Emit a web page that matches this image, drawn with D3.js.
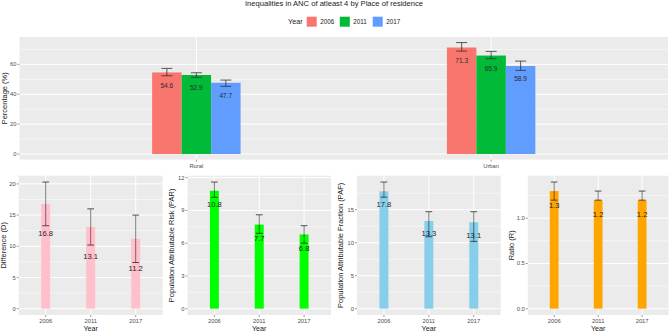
<!DOCTYPE html>
<html>
<head>
<meta charset="utf-8">
<script src="https://cdn.jsdelivr.net/npm/d3@7"></script>
<style>
html,body{margin:0;padding:0;background:#fff;}
svg{display:block;font-family:"Liberation Sans",Arial,sans-serif;}
</style>
</head>
<body>
<svg id="chart" width="669" height="332"></svg>
<script>
// ---------------- DATA ----------------
const titleText = "Inequalities in ANC of atleast 4 by Place of residence";
const places = ["Rural", "Urban"];
const years = ["2006", "2011", "2017"];
const yearColors = ["#F8766D", "#00BA38", "#619CFF"];
const pct2006 = [54.6, 71.3];
const pct2011 = [52.9, 65.9];
const pct2017 = [47.7, 58.9];
const low2006 = [52.4, 68.9];
const low2011 = [51.3, 63.8];
const low2017 = [45.3, 56.0];
const up2006 = [57.3, 74.6];
const up2011 = [54.4, 68.7];
const up2017 = [49.5, 62.2];
const pctTicks = [0, 20, 40, 60];

const diffVals = [16.8, 13.1, 11.2];
const diffLow = [13.3, 10.2, 7.4];
const diffHigh = [20.3, 16.0, 15.0];
const diffTicks = [0, 5, 10, 15, 20];

const parVals = [10.8, 7.7, 6.8];
const parLow = [10.2, 6.9, 6.0];
const parHigh = [11.6, 8.6, 7.6];
const parTicks = [0, 3, 6, 9, 12];

const pafVals = [17.8, 13.3, 13.1];
const pafLow = [16.9, 10.9, 10.2];
const pafHigh = [19.2, 14.7, 14.7];
const pafTicks = [0, 5, 10, 15];

const ratioVals = [1.3, 1.2, 1.2];
const ratioLow = [1.2, 1.2, 1.2];
const ratioHigh = [1.4, 1.3, 1.3];
const ratioTicks = [0, 0.5, 1.0];

// ---------------- DRAW ----------------
const svg = d3.select("#chart");
const BG = "#EBEBEB";
const TICKTXT = "#4D4D4D";
const TICKCOL = "#333333";

// title
svg.append("text").attr("x", 334).attr("y", 6.3).attr("text-anchor", "middle")
  .attr("font-size", 7.6).attr("fill", "#1a1a1a").text(titleText);

// legend
const leg = svg.append("g");
leg.append("text").attr("x", 288).attr("y", 24.4).attr("font-size", 7.2).attr("fill", "#1a1a1a").text("Year");
const legX = [306.7, 339.8, 372.7];
years.forEach((y, i) => {
  leg.append("rect").attr("x", legX[i]).attr("y", 16.7).attr("width", 10).attr("height", 10)
    .attr("fill", yearColors[i]);
  leg.append("text").attr("x", legX[i] + 13.5).attr("y", 24).attr("font-size", 6.3)
    .attr("fill", "#1a1a1a").text(y);
});

// ---------- top panel ----------
(function () {
  const L = 19.5, R = 668, T = 37, B = 159.6;
  const vals = [pct2006, pct2011, pct2017];
  const lows = [low2006, low2011, low2017];
  const ups = [up2006, up2011, up2017];
  const maxUp = d3.max(ups.flat());
  const ext = maxUp * 0.05;
  const y = d3.scaleLinear().domain([-ext, maxUp + ext]).range([B, T]);
  const x = d3.scaleLinear().domain([0.4, places.length + 0.6]).range([L, R]);
  const g = svg.append("g");
  g.append("rect").attr("x", L).attr("y", T).attr("width", R - L).attr("height", B - T).attr("fill", BG);
  const minor = pctTicks.map(t => t + 10);
  g.selectAll(".mn").data(minor).enter().append("line")
    .attr("x1", L).attr("x2", R).attr("y1", d => y(d)).attr("y2", d => y(d))
    .attr("stroke", "#fff").attr("stroke-width", 0.5);
  g.selectAll(".mj").data(pctTicks).enter().append("line")
    .attr("x1", L).attr("x2", R).attr("y1", d => y(d)).attr("y2", d => y(d))
    .attr("stroke", "#fff").attr("stroke-width", 1);
  g.selectAll(".vg").data(places).enter().append("line")
    .attr("x1", (d, i) => x(i + 1)).attr("x2", (d, i) => x(i + 1)).attr("y1", T).attr("y2", B)
    .attr("stroke", "#fff").attr("stroke-width", 1);
  const bw = 0.1;
  const capW = 0.0375;
  years.forEach((yr, k) => {
    places.forEach((p, i) => {
      const cx = i + 1 + (k - 1) * bw;
      g.append("rect").attr("x", x(cx - bw / 2)).attr("width", x(cx + bw / 2) - x(cx - bw / 2))
        .attr("y", y(vals[k][i])).attr("height", y(0) - y(vals[k][i])).attr("fill", yearColors[k]);
    });
  });
  years.forEach((yr, k) => {
    places.forEach((p, i) => {
      const cx = i + 1 + (k - 1) * bw;
      const ec = "#333";
      g.append("line").attr("x1", x(cx)).attr("x2", x(cx)).attr("y1", y(lows[k][i])).attr("y2", y(ups[k][i]))
        .attr("stroke", ec).attr("stroke-width", 0.8);
      [lows[k][i], ups[k][i]].forEach(v => {
        g.append("line").attr("x1", x(cx - capW / 2)).attr("x2", x(cx + capW / 2))
          .attr("y1", y(v)).attr("y2", y(v)).attr("stroke", ec).attr("stroke-width", 0.8);
      });
      g.append("text").attr("x", x(cx)).attr("y", y(vals[k][i]) + 13).attr("dy", "0.35em")
        .attr("text-anchor", "middle").attr("font-size", 6.6).attr("fill", "#2b2b2b")
        .text(vals[k][i].toFixed(1));
    });
  });
  // axes
  g.selectAll(".yt").data(pctTicks).enter().append("line")
    .attr("x1", L - 2).attr("x2", L).attr("y1", d => y(d)).attr("y2", d => y(d)).attr("stroke", TICKCOL).attr("stroke-width", 0.5);
  g.selectAll(".yl").data(pctTicks).enter().append("text")
    .attr("x", L - 3).attr("y", d => y(d)).attr("dy", "0.35em").attr("text-anchor", "end")
    .attr("font-size", 5.8).attr("fill", TICKTXT).text(d => d);
  g.selectAll(".xt").data(places).enter().append("line")
    .attr("x1", (d, i) => x(i + 1)).attr("x2", (d, i) => x(i + 1)).attr("y1", B).attr("y2", B + 2)
    .attr("stroke", TICKCOL).attr("stroke-width", 0.5);
  g.selectAll(".xl").data(places).enter().append("text")
    .attr("x", (d, i) => x(i + 1)).attr("y", B + 8.5).attr("text-anchor", "middle")
    .attr("font-size", 5.8).attr("fill", TICKTXT).text(d => d);
  g.append("text").attr("transform", `translate(6.5,${(T + B) / 2}) rotate(-90)`)
    .attr("text-anchor", "middle").attr("font-size", 7.5).attr("fill", "#1a1a1a").text("Percentage (%)");
})();

// ---------- bottom panels ----------
function smallPanel(opt) {
  const { L, R, T, B, vals, lows, highs, ticks, color, title, titleX, nudge, fmt } = opt;
  const maxUp = d3.max(highs);
  const ext = maxUp * 0.05;
  const y = d3.scaleLinear().domain([-ext, maxUp + ext]).range([B, T]);
  const x = d3.scaleLinear().domain([0.4, years.length + 0.6]).range([L, R]);
  const g = svg.append("g");
  g.append("rect").attr("x", L).attr("y", T).attr("width", R - L).attr("height", B - T).attr("fill", BG);
  const step = ticks[1] - ticks[0];
  const minor = ticks.map(t => t + step / 2).filter(v => y(v) > T);
  g.selectAll(".mn").data(minor).enter().append("line")
    .attr("x1", L).attr("x2", R).attr("y1", d => y(d)).attr("y2", d => y(d))
    .attr("stroke", "#fff").attr("stroke-width", 0.5);
  g.selectAll(".mj").data(ticks).enter().append("line")
    .attr("x1", L).attr("x2", R).attr("y1", d => y(d)).attr("y2", d => y(d))
    .attr("stroke", "#fff").attr("stroke-width", 1);
  g.selectAll(".vg").data(years).enter().append("line")
    .attr("x1", (d, i) => x(i + 1)).attr("x2", (d, i) => x(i + 1)).attr("y1", T).attr("y2", B)
    .attr("stroke", "#fff").attr("stroke-width", 1);
  const bw = 0.2, capW = 0.15;
  g.selectAll(".bar").data(vals).enter().append("rect")
    .attr("x", (d, i) => x(i + 1 - bw / 2)).attr("width", x(1 + bw / 2) - x(1 - bw / 2))
    .attr("y", d => y(d)).attr("height", d => y(0) - y(d)).attr("fill", color);
  vals.forEach((v, i) => {
    g.append("line").attr("x1", x(i + 1)).attr("x2", x(i + 1)).attr("y1", y(lows[i])).attr("y2", y(highs[i]))
      .attr("stroke", "#000").attr("stroke-opacity", 0.5).attr("stroke-width", 1);
    [lows[i], highs[i]].forEach(e => {
      g.append("line").attr("x1", x(i + 1 - capW / 2)).attr("x2", x(i + 1 + capW / 2))
        .attr("y1", y(e)).attr("y2", y(e)).attr("stroke", "#222").attr("stroke-opacity", 0.85).attr("stroke-width", 0.9);
    });
    g.append("text").attr("x", x(i + 1)).attr("y", y(v - nudge)).attr("dy", "0.35em")
      .attr("text-anchor", "middle").attr("font-size", 7.6).attr("fill", "#1f1f1f").text(v.toFixed(1));
  });
  g.selectAll(".yt").data(ticks).enter().append("line")
    .attr("x1", L - 2).attr("x2", L).attr("y1", d => y(d)).attr("y2", d => y(d)).attr("stroke", TICKCOL).attr("stroke-width", 0.5);
  g.selectAll(".yl").data(ticks).enter().append("text")
    .attr("x", L - 3).attr("y", d => y(d)).attr("dy", "0.35em").attr("text-anchor", "end")
    .attr("font-size", 5.8).attr("fill", TICKTXT).text(d => fmt(d));
  g.selectAll(".xt").data(years).enter().append("line")
    .attr("x1", (d, i) => x(i + 1)).attr("x2", (d, i) => x(i + 1)).attr("y1", B).attr("y2", B + 2)
    .attr("stroke", TICKCOL).attr("stroke-width", 0.5);
  g.selectAll(".xl").data(years).enter().append("text")
    .attr("x", (d, i) => x(i + 1)).attr("y", B + 8).attr("text-anchor", "middle")
    .attr("font-size", 5.8).attr("fill", TICKTXT).text(d => d);
  g.append("text").attr("x", (L + R) / 2).attr("y", B + 15.8).attr("text-anchor", "middle")
    .attr("font-size", 7.2).attr("fill", "#1a1a1a").text("Year");
  g.append("text").attr("transform", `translate(${titleX},${(T + B) / 2}) rotate(-90)`)
    .attr("text-anchor", "middle").attr("font-size", 7.5).attr("fill", "#1a1a1a").text(title);
}

const T2 = 175.7, B2 = 315;
smallPanel({ L: 18.7, R: 162.7, T: T2, B: B2, vals: diffVals, lows: diffLow, highs: diffHigh, ticks: diffTicks,
  color: "#FFC0CB", title: "Difference (D)", titleX: 6, nudge: 4.75, fmt: d => d });
smallPanel({ L: 187.5, R: 331, T: T2, B: B2, vals: parVals, lows: parLow, highs: parHigh, ticks: parTicks,
  color: "#00FF00", title: "Population Attributable Risk (PAR)", titleX: 173.5, nudge: 1.28, fmt: d => d });
smallPanel({ L: 357, R: 500.7, T: T2, B: B2, vals: pafVals, lows: pafLow, highs: pafHigh, ticks: pafTicks,
  color: "#87CEEB", title: "Population Attributable Fraction (PAF)", titleX: 343, nudge: 1.95, fmt: d => d });
smallPanel({ L: 527.8, R: 668.5, T: T2, B: B2, vals: ratioVals, lows: ratioLow, highs: ratioHigh, ticks: ratioTicks,
  color: "#FFA500", title: "Ratio (R)", titleX: 514, nudge: 0.155, fmt: d => d.toFixed(1) });
</script>
</body>
</html>
